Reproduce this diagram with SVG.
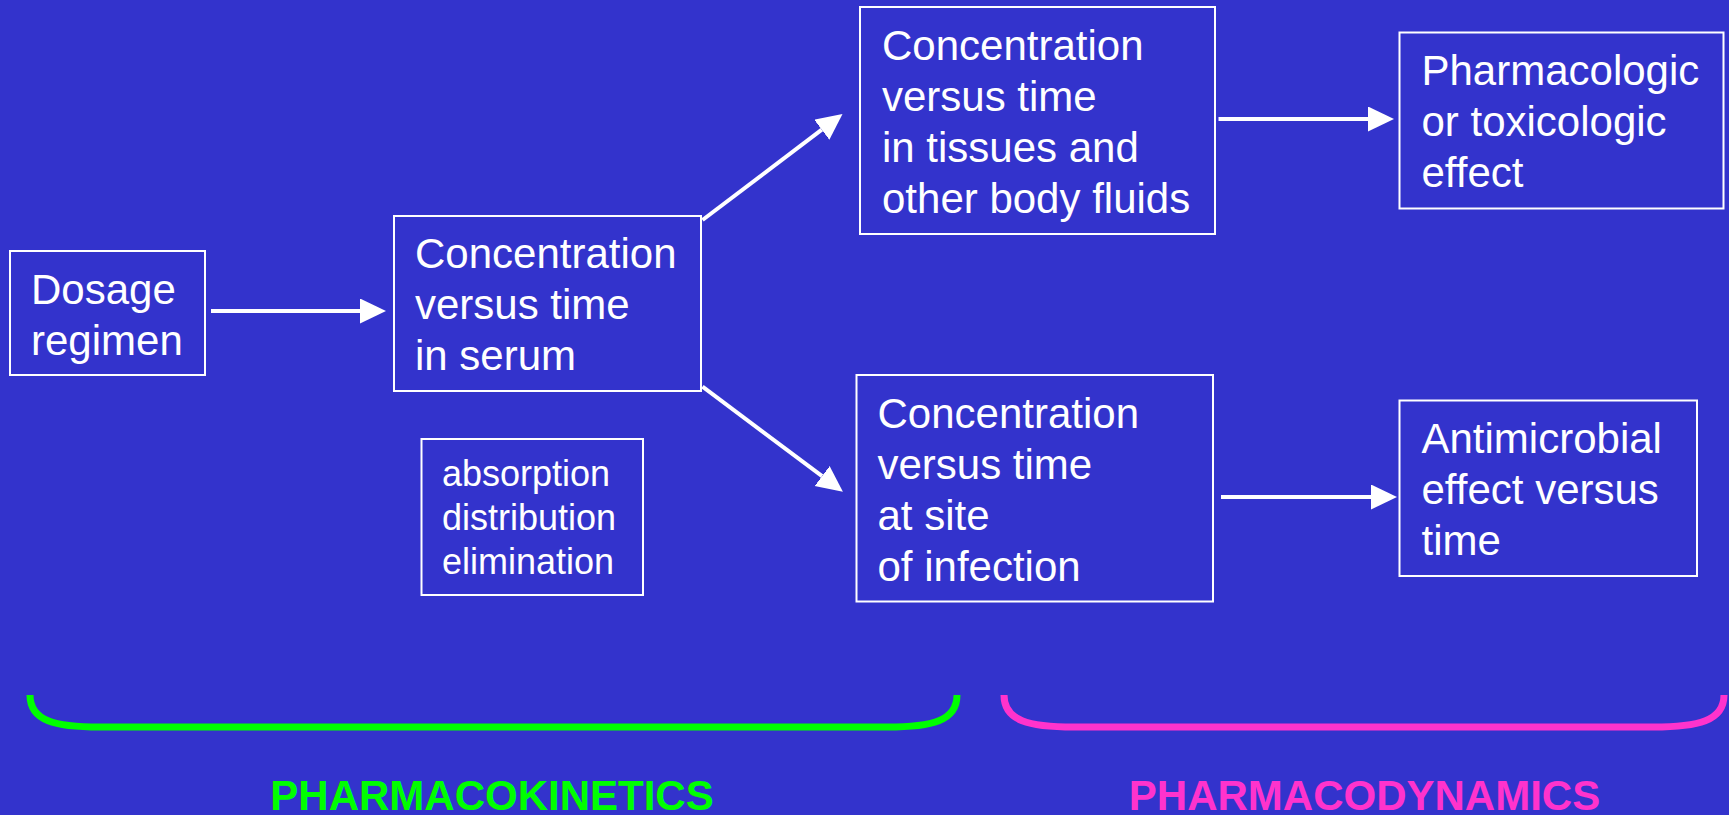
<svg xmlns="http://www.w3.org/2000/svg" width="1729" height="815" viewBox="0 0 1729 815">
<style>
.box{fill:none;stroke:#fff;stroke-width:2}
.t{font-family:"Liberation Sans",Arial,sans-serif;fill:#fff;font-size:42px}
.s{font-size:36px}
.c{stroke:#fff;stroke-width:4;fill:none}
.lbl{font-family:"Liberation Sans",Arial,sans-serif;font-weight:bold;font-size:42px;text-anchor:middle}
</style>
<defs>
<marker id="ah" markerUnits="userSpaceOnUse" markerWidth="27" markerHeight="26" refX="0" refY="12.5" orient="auto">
<path d="M0,0 L26,12.5 L0,25 z" fill="#fff"/>
</marker>
</defs>
<rect x="0" y="0" width="1729" height="815" fill="#3333CC"/>
<g id="dosage">
<rect class="box" x="10" y="251" width="195" height="124"/>
<text class="t" x="31"><tspan x="31" y="304">Dosage</tspan><tspan x="31" y="355">regimen</tspan></text>
</g>
<g id="serum">
<rect class="box" x="394" y="216" width="307" height="175"/>
<text class="t"><tspan x="415" y="268">Concentration</tspan><tspan x="415" y="319">versus time</tspan><tspan x="415" y="370">in serum</tspan></text>
</g>
<g id="processes">
<rect class="box" x="421.5" y="439" width="221.5" height="156"/>
<text class="t s"><tspan x="442" y="486">absorption</tspan><tspan x="442" y="530">distribution</tspan><tspan x="442" y="574">elimination</tspan></text>
</g>
<g id="tissues">
<rect class="box" x="860" y="7" width="355" height="227"/>
<text class="t"><tspan x="882" y="60">Concentration</tspan><tspan x="882" y="111">versus time</tspan><tspan x="882" y="162">in tissues and</tspan><tspan x="882" y="213">other body fluids</tspan></text>
</g>
<g id="infection">
<rect class="box" x="856.5" y="375" width="356.5" height="226.5"/>
<text class="t"><tspan x="877.5" y="428">Concentration</tspan><tspan x="877.5" y="479">versus time</tspan><tspan x="877.5" y="530">at site</tspan><tspan x="877.5" y="581">of infection</tspan></text>
</g>
<g id="pharmacologic">
<rect class="box" x="1399.5" y="32.5" width="324" height="176"/>
<text class="t"><tspan x="1421.5" y="85">Pharmacologic</tspan><tspan x="1421.5" y="136">or toxicologic</tspan><tspan x="1421.5" y="187">effect</tspan></text>
</g>
<g id="antimicrobial">
<rect class="box" x="1399.5" y="400.5" width="297.5" height="175.5"/>
<text class="t"><tspan x="1421.5" y="453">Antimicrobial</tspan><tspan x="1421.5" y="504">effect versus</tspan><tspan x="1421.5" y="555">time</tspan></text>
</g>
<g id="connectors">
<line class="c" x1="211" y1="311" x2="360" y2="311" marker-end="url(#ah)"/>
<line class="c" x1="702.5" y1="220" x2="821.8" y2="129.7" marker-end="url(#ah)"/>
<line class="c" x1="702.5" y1="386.7" x2="822.1" y2="476.1" marker-end="url(#ah)"/>
<line class="c" x1="1218.5" y1="119" x2="1368" y2="119" marker-end="url(#ah)"/>
<line class="c" x1="1221" y1="497" x2="1371" y2="497" marker-end="url(#ah)"/>
</g>
<g id="pk-bracket">
<path d="M30,695 C30,721 55,727 100,727 H887 C932,727 957,721 957,695" fill="none" stroke="#00FF00" stroke-width="7"/>
<text class="lbl" x="492" y="810" fill="#00FF00">PHARMACOKINETICS</text>
</g>
<g id="pd-bracket">
<path d="M1004,695 C1004,721 1029,727 1074,727 H1653 C1698,727 1724,721 1724,695" fill="none" stroke="#FF33CC" stroke-width="7"/>
<text class="lbl" x="1364.5" y="810" fill="#FF33CC">PHARMACODYNAMICS</text>
</g>
</svg>
